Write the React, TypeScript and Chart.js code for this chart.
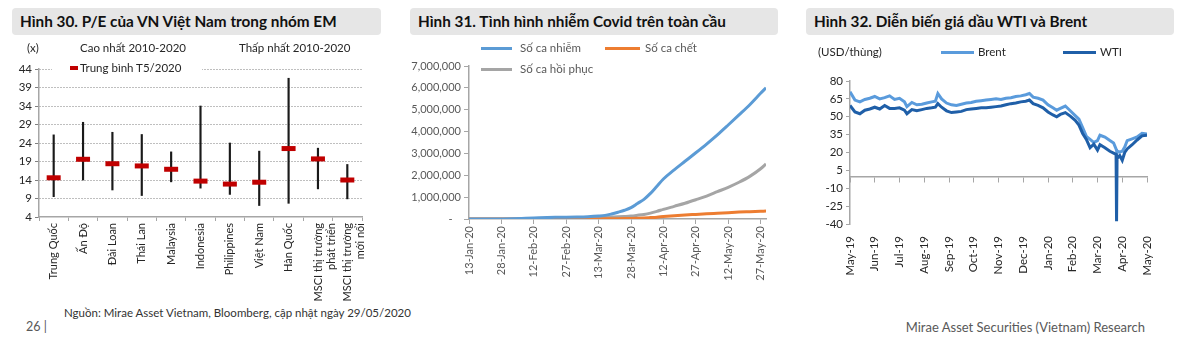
import React, { useEffect, useRef } from 'react';
import { Chart, registerables } from 'chart.js';

Chart.register(...registerables);

const FONT = 'Lato, "Noto Sans", sans-serif';
const AXIS = '#a6a6a6';

// ---------- Hình 30: P/E ----------
const peCategories: (string | string[])[] = [
  'Trung Quốc', 'Ấn Độ', 'Đài Loan', 'Thái Lan', 'Malaysia', 'Indonesia',
  'Philippines', 'Việt Nam', 'Hàn Quốc', ['MSCI thị trường', 'phát triển'], ['MSCI thị trường', 'mới nổi'],
];
const peHigh = [26.2, 29.6, 26.9, 26.3, 21.6, 34.0, 24.0, 21.8, 41.5, 22.6, 18.2];
const peLow = [9.5, 14.0, 11.3, 9.8, 13.5, 11.8, 10.1, 7.1, 7.7, 11.6, 8.9];
const peAvg = [14.6, 19.6, 18.4, 17.8, 16.9, 13.7, 12.9, 13.4, 22.5, 19.7, 14.0];

// ---------- Hình 31: Covid ----------
const covidDays = [0, 10, 20, 30, 40, 50, 55, 60, 63, 66, 69, 72, 75, 78, 81, 84, 87, 90, 95, 100, 105, 110, 115, 120, 125, 130, 135, 137.5];
const covidConfirmed = [300, 1500, 12000, 45000, 75000, 90000, 105000, 135000, 165000, 230000, 310000, 400000, 520000, 710000, 900000, 1170000, 1500000, 1830000, 2250000, 2640000, 3030000, 3430000, 3850000, 4300000, 4760000, 5230000, 5750000, 6000000];
const covidDeaths = [0, 0, 300, 1100, 2200, 3000, 3800, 5400, 7000, 9000, 13000, 19000, 28000, 38000, 50000, 67000, 85000, 110000, 145000, 180000, 210000, 240000, 265000, 290000, 315000, 335000, 355000, 365000];
const covidRecovered = [0, 30, 300, 5000, 25000, 45000, 60000, 70000, 80000, 90000, 100000, 115000, 135000, 170000, 210000, 270000, 350000, 440000, 580000, 720000, 880000, 1050000, 1250000, 1450000, 1680000, 1950000, 2300000, 2520000];
const covidTickDays = [0, 15, 30, 45, 60, 75, 90, 105, 120, 135];
const covidTickLabels = ['13-Jan-20', '28-Jan-20', '12-Feb-20', '27-Feb-20', '13-Mar-20', '28-Mar-20', '12-Apr-20', '27-Apr-20', '12-May-20', '27-May-20'];

// ---------- Hình 32: Oil ----------
const oilMonthLabels = ['May-19', 'Jun-19', 'Jul-19', 'Aug-19', 'Sep-19', 'Oct-19', 'Nov-19', 'Dec-19', 'Jan-20', 'Feb-20', 'Mar-20', 'Apr-20', 'May-20'];
const oilX = [0, 0.2, 0.4, 0.6, 0.8, 1.0, 1.2, 1.4, 1.6, 1.8, 2.0, 2.2, 2.3, 2.5, 2.7, 2.9, 3.1, 3.3, 3.45, 3.55, 3.7, 3.9, 4.1, 4.3, 4.5, 4.7, 4.9, 5.1, 5.3, 5.5, 5.7, 5.9, 6.1, 6.3, 6.5, 6.7, 6.9, 7.1, 7.25, 7.4, 7.6, 7.8, 8.0, 8.2, 8.35, 8.5, 8.7, 8.9, 9.1, 9.25, 9.4, 9.55, 9.7, 9.85, 10.0, 10.1, 10.3, 10.5, 10.65, 10.75, 10.77, 10.79, 10.9, 11.0, 11.1, 11.2, 11.4, 11.6, 11.8, 12.0];
const brentPrice = [71, 64, 62.5, 64.5, 65.5, 67, 65, 66, 67.5, 64.5, 65.5, 62.5, 58.5, 62, 60, 60.5, 61.5, 62.5, 63, 69.5, 65, 61.5, 60, 59.5, 60.5, 61.5, 62, 63, 63.5, 64, 64.5, 65, 64.5, 65.5, 66, 67, 67.5, 68.5, 69.5, 66.5, 65.5, 64, 60, 57.5, 55.5, 57, 59, 55, 51, 48, 41, 33.5, 31, 28.5, 30, 34.5, 33, 30, 28, 23, 21.5, 21, 20.5, 21, 24.5, 30, 31.5, 33, 36, 35.5];
const wtiPrice = [59.5, 54, 52.5, 55.5, 56.5, 58, 56.5, 59.5, 57, 57, 57.5, 55.5, 52.5, 56, 55, 56, 57, 57.5, 58, 61, 58, 55, 53.5, 54, 54.5, 56, 56.5, 57, 57.5, 57.5, 58, 58.5, 59, 60, 61, 61.5, 62.5, 63, 64, 61, 59.5, 57.5, 54, 51.5, 50, 52, 53.5, 50.5, 47, 43, 36, 31, 24, 27, 22, 26.5, 24, 21, 19.5, 18.5, -37.6, 15, 17.5, 13.5, 20, 23, 26.5, 30.5, 34, 34.5];

const tickFont = (size = 11) => ({ family: FONT, size });

function ChartCanvas({ left, top, width, height, make }: any) {
  const ref = useRef<HTMLCanvasElement>(null);
  useEffect(() => {
    const chart = new Chart(ref.current as HTMLCanvasElement, make());
    return () => chart.destroy();
  }, []);
  return (
    <canvas
      ref={ref}
      width={width}
      height={height}
      style={{ position: 'absolute', left, top, width, height }}
    />
  );
}

const peConfig = (): any => ({
  type: 'bar',
  data: {
    labels: peCategories,
    datasets: [
      {
        type: 'line', label: 'Trung bình T5/2020', data: peAvg, showLine: false,
        pointStyle: 'line', pointRadius: 7, pointHoverRadius: 7, pointBorderWidth: 5,
        borderColor: '#c00000', pointBorderColor: '#c00000', backgroundColor: '#c00000', order: 0,
      },
      {
        type: 'bar', label: 'Cao-Thấp', data: peLow.map((l, i) => [l, peHigh[i]]),
        backgroundColor: '#1a1a1a', barThickness: 1.5, order: 1,
      },
    ],
  },
  options: {
    responsive: false, animation: false,
    layout: { padding: { left: 0, top: 14, right: 18, bottom: 0 } },
    plugins: { legend: { display: false }, tooltip: { enabled: false } },
    scales: {
      x: {
        grid: { drawOnChartArea: false, drawTicks: true, tickLength: 4, color: AXIS, offset: true },
        border: { color: AXIS, width: 1.5 },
        ticks: { minRotation: 90, maxRotation: 90, autoSkip: false, color: '#262626', font: tickFont(11), padding: 2 },
        afterFit: (s: any) => { s.height = 88; },
      },
      y: {
        min: 4, max: 44,
        ticks: { stepSize: 5, color: '#262626', font: tickFont(11.5), padding: 3 },
        grid: {
          color: (c: any) => (c.tick && c.tick.value === 4 ? 'rgba(0,0,0,0)' : '#7f7f7f'),
          tickColor: '#7f7f7f', tickLength: 4, tickBorderDash: [],
        },
        border: { color: AXIS, width: 1.5, dash: [1, 2] },
        afterFit: (s: any) => { s.width = 39; },
      },
    },
  },
});

const covidConfig = (): any => ({
  type: 'line',
  data: {
    datasets: [
      { label: 'Số ca nhiễm', data: covidDays.map((d, i) => ({ x: d, y: covidConfirmed[i] })), borderColor: '#5b9bd5', order: 0 },
      { label: 'Số ca chết', data: covidDays.map((d, i) => ({ x: d, y: covidDeaths[i] })), borderColor: '#ed7d31', order: 1 },
      { label: 'Số ca hồi phục', data: covidDays.map((d, i) => ({ x: d, y: covidRecovered[i] })), borderColor: '#a5a5a5', order: 2 },
    ].map((d) => ({ ...d, borderWidth: 3, pointRadius: 0, cubicInterpolationMode: 'monotone', fill: false })),
  },
  options: {
    responsive: false, animation: false,
    layout: { padding: { left: 0, top: 11, right: 14, bottom: 0 } },
    plugins: { legend: { display: false }, tooltip: { enabled: false } },
    scales: {
      x: {
        type: 'linear', min: 0, max: 137.5,
        afterBuildTicks: (s: any) => { s.ticks = covidTickDays.map((v) => ({ value: v })); },
        ticks: {
          callback: (v: any) => { const i = covidTickDays.indexOf(v); return i >= 0 ? covidTickLabels[i] : ''; },
          minRotation: 90, maxRotation: 90, autoSkip: false, color: '#595959', font: tickFont(11), padding: 2,
        },
        grid: { drawOnChartArea: false, tickLength: 5, color: AXIS },
        border: { color: AXIS, width: 1.5 },
        afterFit: (s: any) => { s.height = 86; },
      },
      y: {
        min: 0, max: 7000000,
        ticks: {
          stepSize: 1000000, color: '#595959', font: tickFont(11), padding: 3,
          callback: (v: any) => (v === 0 ? '-   ' : Number(v).toLocaleString('en-US')),
        },
        grid: { drawOnChartArea: false, tickLength: 5, color: AXIS },
        border: { color: AXIS, width: 1.5 },
        afterFit: (s: any) => { s.width = 69; },
      },
    },
  },
});

const oilConfig = (): any => ({
  type: 'line',
  data: {
    datasets: [
      { label: 'WTI', data: oilX.map((m, i) => ({ x: m, y: wtiPrice[i] })), borderColor: '#1f5fa8', order: 0 },
      { label: 'Brent', data: oilX.map((m, i) => ({ x: m, y: brentPrice[i] })), borderColor: '#5a9bdc', order: 1 },
    ].map((d) => ({ ...d, borderWidth: 3, pointRadius: 0, tension: 0, fill: false, xAxisID: 'x', yAxisID: 'y' })),
  },
  options: {
    responsive: false, animation: false,
    layout: { padding: { left: 0, top: 26, right: 35, bottom: 0 } },
    plugins: { legend: { display: false }, tooltip: { enabled: false } },
    scales: {
      x: {
        type: 'linear', min: 0, max: 12,
        ticks: {
          stepSize: 1, autoSkip: false, minRotation: 90, maxRotation: 90, color: '#262626', font: tickFont(11.5), padding: 4,
          callback: (v: any) => oilMonthLabels[v] ?? '',
        },
        grid: { display: false },
        border: { display: false },
        afterFit: (s: any) => { s.height = 81; },
      },
      x0: {
        type: 'linear', axis: 'x', position: { y: 0 }, min: 0, max: 12,
        ticks: { stepSize: 1, display: false },
        grid: { drawOnChartArea: false, tickLength: 5, color: AXIS },
        border: { color: AXIS, width: 1.5 },
      },
      y: {
        min: -40, max: 80,
        ticks: { stepSize: 15, color: '#262626', font: tickFont(11.5), padding: 3 },
        grid: { drawOnChartArea: false, tickLength: 4, color: AXIS },
        border: { color: AXIS, width: 1.5 },
        afterFit: (s: any) => { s.width = 60; },
      },
    },
  },
});

function Txt({ left, right, cy, size = 11.5, color = '#262626', weight = 400, children }: any) {
  const h = size * 1.4;
  return (
    <div
      style={{
        position: 'absolute', left, right, top: cy - h / 2, height: h, lineHeight: `${h}px`,
        fontSize: size, color, fontWeight: weight, whiteSpace: 'nowrap', fontFamily: FONT,
      }}
    >
      {children}
    </div>
  );
}

function TitleBox({ left, width, text }: any) {
  return (
    <div
      style={{
        position: 'absolute', left, top: 8, width, height: 27, background: '#e6e6e6', borderRadius: 4,
        fontFamily: FONT, fontWeight: 700, fontSize: 15.3, lineHeight: '27px', paddingLeft: 8,
        boxSizing: 'border-box', color: '#111', whiteSpace: 'nowrap',
      }}
    >
      {text}
    </div>
  );
}

function Swatch({ left, cy, width, color }: any) {
  return <div style={{ position: 'absolute', left, top: cy - 1.5, width, height: 3, background: color }} />;
}

export default function App() {
  return (
    <div style={{ position: 'absolute', left: 0, top: 0, width: 1182, height: 351, background: '#fff', overflow: 'hidden' }}>
      <TitleBox left={12} width={369} text="Hình 30. P/E của VN Việt Nam trong nhóm EM" />
      <TitleBox left={410} width={368} text="Hình 31. Tình hình nhiễm Covid trên toàn cầu" />
      <TitleBox left={806} width={368} text="Hình 32. Diễn biến giá dầu WTI và Brent" />

      <ChartCanvas left={0} top={55} width={380} height={250} make={peConfig} />
      <ChartCanvas left={400} top={55} width={380} height={250} make={covidConfig} />
      <ChartCanvas left={790} top={55} width={392} height={250} make={oilConfig} />

      {/* Hình 30 legend */}
      <Txt left={27} cy={48}>(x)</Txt>
      <Txt left={80} cy={48}>Cao nhất 2010-2020</Txt>
      <Txt left={239} cy={48}>Thấp nhất 2010-2020</Txt>
      <div style={{ position: 'absolute', left: 52, top: 60, width: 150, height: 16, background: '#fff' }} />
      <div style={{ position: 'absolute', left: 70, top: 66, width: 8, height: 4, background: '#c00000' }} />
      <Txt left={80} cy={68}>Trung bình T5/2020</Txt>

      {/* Hình 31 legend */}
      <Swatch left={481} cy={48} width={31} color="#5b9bd5" />
      <Txt left={520} cy={48} color="#595959">Số ca nhiễm</Txt>
      <Swatch left={605} cy={48} width={35} color="#ed7d31" />
      <Txt left={645} cy={48} color="#595959">Số ca chết</Txt>
      <Swatch left={481} cy={69} width={31} color="#a5a5a5" />
      <Txt left={520} cy={69} color="#595959">Số ca hồi phục</Txt>

      {/* Hình 32 legend */}
      <Txt left={818} cy={52}>(USD/thùng)</Txt>
      <Swatch left={941} cy={52} width={33} color="#5a9bdc" />
      <Txt left={978} cy={52}>Brent</Txt>
      <Swatch left={1063} cy={52} width={33} color="#1f5fa8" />
      <Txt left={1100} cy={52}>WTI</Txt>

      {/* Footer */}
      <Txt left={64} cy={313} size={11.5} color="#333">Nguồn:  Mirae Asset Vietnam, Bloomberg, cập nhật ngày 29/05/2020</Txt>
      <Txt left={26} cy={327} size={12.5} color="#595959">26 |</Txt>
      <Txt right={37} cy={327} size={13} color="#595959">Mirae Asset Securities (Vietnam) Research</Txt>
    </div>
  );
}
